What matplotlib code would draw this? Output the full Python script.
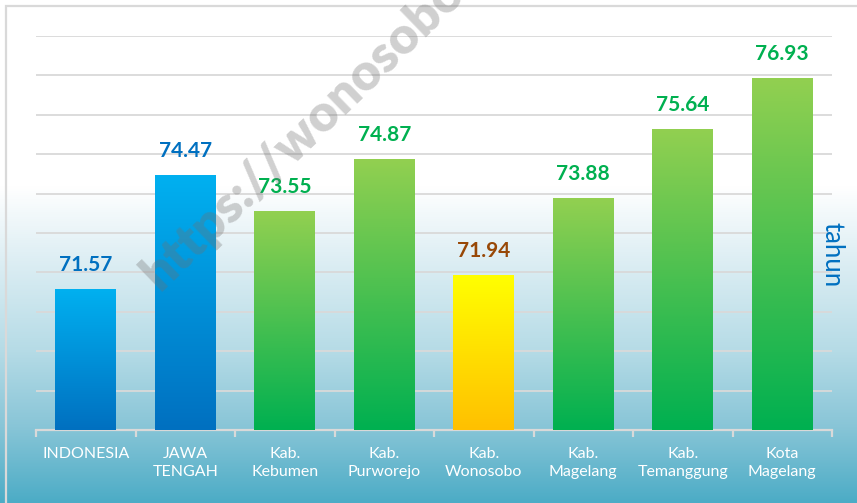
import numpy as np
import matplotlib
matplotlib.use("Agg")
import matplotlib.pyplot as plt
from matplotlib.colors import LinearSegmentedColormap
from matplotlib.patches import Rectangle

plt.rcParams['font.family'] = ['Lato', 'DejaVu Sans']

# data
regions = ["INDONESIA", "JAWA\nTENGAH", "Kab.\nKebumen", "Kab.\nPurworejo",
           "Kab.\nWonosobo", "Kab.\nMagelang", "Kab.\nTemanggung", "Kota\nMagelang"]
life_expectancy = [71.57, 74.47, 73.55, 74.87, 71.94, 73.88, 75.64, 76.93]
groups = ["nat", "prov", "kab", "kab", "own", "kab", "kab", "kab"]

# gradient (top, bottom) and label colour per group
bar_grad = {
    "nat": ("#00B0F0", "#0070C0"),
    "prov": ("#00B0F0", "#0070C0"),
    "kab": ("#92D050", "#00B050"),
    "own": ("#FFFF00", "#FFC000"),
}
label_color = {"nat": "#0070C0", "prov": "#0070C0", "kab": "#00B050", "own": "#984807"}

W, H = 857, 503
fig = plt.figure(figsize=(W / 100, H / 100), dpi=100)

# background gradient
bg = fig.add_axes([0, 0, 1, 1], zorder=0)
bg.set_axis_off()
bg_cmap = LinearSegmentedColormap.from_list("bg", [
    (0.0, "#FFFFFF"), (0.37, "#FFFFFF"), (0.50, "#E1F0F5"),
    (0.70, "#B5DBE6"), (0.85, "#88C5D7"), (1.0, "#4CACC6")])
bg.imshow(np.linspace(0, 1, 256).reshape(-1, 1), aspect="auto", cmap=bg_cmap,
          extent=[0, 1, 0, 1])
bg.set_xlim(0, 1)
bg.set_ylim(0, 1)
# frame
fig.patches.append(Rectangle((6 / W, -0.1), 1.1, 1.1 - 6 / H, transform=fig.transFigure,
                             fill=False, edgecolor="#D9D9D9", linewidth=1.6, zorder=1))

ax = fig.add_axes([36 / W, (H - 430) / H, (832 - 36) / W, (430 - 36) / H], zorder=2)
ax.patch.set_alpha(0)

x = np.arange(len(regions))
bars = ax.bar(x, life_expectancy, width=0.61, bottom=0, color="none", zorder=3)

for rect, g, v in zip(bars, groups, life_expectancy):
    top, bot = bar_grad[g]
    cm = LinearSegmentedColormap.from_list("b", [bot, top])
    x0 = rect.get_x()
    im = ax.imshow(np.linspace(0, 1, 128).reshape(-1, 1), origin="lower", aspect="auto",
                   cmap=cm, extent=[x0, x0 + rect.get_width(), 68, v], zorder=3)
    im.set_clip_path(rect)
    ax.annotate(f"{v:.2f}", (rect.get_x() + rect.get_width() / 2, v),
                xytext=(0, 13), textcoords="offset points", ha="center", va="baseline",
                fontsize=15, fontweight="bold", color=label_color[g], zorder=5)

ax.set_xlim(-0.5, len(regions) - 0.5)
ax.set_ylim(68, 78)

# grid and axes
ax.set_yticks(np.arange(69, 79, 1))
ax.yaxis.grid(True, color="#D9D9D9", linewidth=1.3, zorder=1)
ax.set_axisbelow(True)
ax.tick_params(axis="y", length=0, labelleft=False)
for s in ["top", "right", "left"]:
    ax.spines[s].set_visible(False)
ax.spines["bottom"].set_color("#D9D9D9")
ax.spines["bottom"].set_linewidth(1.6)

ax.set_xticks(x)
ax.set_xticklabels(regions, color="white", fontsize=11.5, linespacing=1.4)
ax.tick_params(axis="x", which="major", length=0, pad=12)
ax.set_xticks(np.arange(-0.5, len(regions)), minor=True)
ax.tick_params(axis="x", which="minor", length=5, width=1.6, color="#D9D9D9", direction="out")

# unit label
fig.text(832 / W, 1 - 255 / H, "tahun", rotation=-90, ha="center", va="center",
         fontsize=18.5, color="#0070C0", zorder=6)

# watermark
fig.text(160 / W, 1 - 292 / H, "https://wonosobo.", rotation=44,
         rotation_mode="anchor", ha="left", va="baseline", fontsize=37,
         fontweight="heavy", color="#707070", alpha=0.33, zorder=7)

fig.savefig("out.png", dpi=100)
